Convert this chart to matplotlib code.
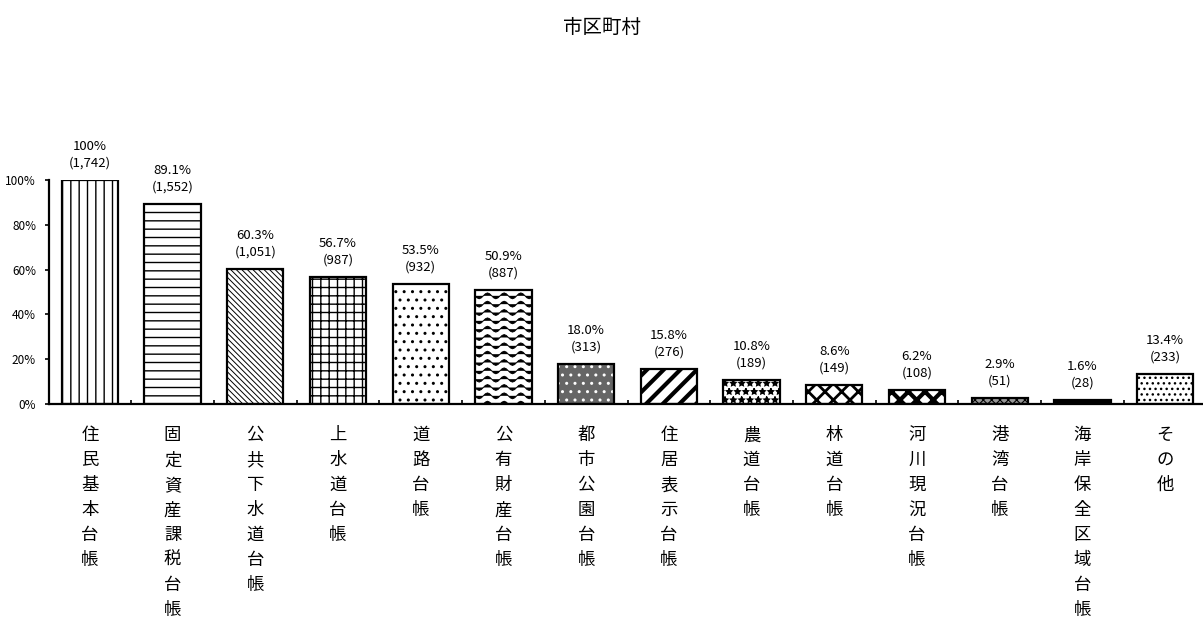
import warnings

import numpy as np
import matplotlib
matplotlib.use("Agg")
from matplotlib import pyplot as plt
from matplotlib import hatch as mhatch
from matplotlib.path import Path

warnings.filterwarnings("ignore")

plt.rcParams['font.family'] = ['Noto Sans CJK JP', 'DejaVu Sans']
plt.rcParams['hatch.linewidth'] = 1.0

# 台帳の種類ごとの整備率(%)と団体数
ledgers = ['住民基本台帳', '固定資産課税台帳', '公共下水道台帳', '上水道台帳', '道路台帳',
           '公有財産台帳', '都市公園台帳', '住居表示台帳', '農道台帳', '林道台帳',
           '河川現況台帳', '港湾台帳', '海岸保全区域台帳', 'その他']
rates = [100, 89.1, 60.3, 56.7, 53.5, 50.9, 18.0, 15.8, 10.8, 8.6, 6.2, 2.9, 1.6, 13.4]
counts = [1742, 1552, 1051, 987, 932, 887, 313, 276, 189, 149, 108, 51, 28, 233]
yticks = [0, 20, 40, 60, 80, 100]


class WaveHatch(mhatch.HatchPatternBase):
    """'~' : rows of sine waves."""

    def __init__(self, hatch, density):
        self.num_rows = int(hatch.count('~') * density)
        self.periods = 6
        self.pts = self.periods * 8 + 1
        self.num_vertices = self.num_rows * self.pts

    def set_vertices_and_codes(self, vertices, codes):
        xs = np.linspace(0.0, 1.0, self.pts)
        step = 1.0 / self.num_rows
        for r in range(self.num_rows):
            y0 = (r + 0.5) * step
            seg = slice(r * self.pts, (r + 1) * self.pts)
            vertices[seg, 0] = xs
            vertices[seg, 1] = y0 + 0.35 * step * np.sin(2 * np.pi * self.periods * xs)
            codes[seg] = Path.LINETO
            codes[r * self.pts] = Path.MOVETO


mhatch._hatch_types.append(WaveHatch)

# fill pattern per bar: (hatch, face, hatch colour, hatch linewidth)
styles = [
    ('||', 'white', 'black', 1.0),
    ('--', 'white', 'black', 1.0),
    ('\\' * 6, 'white', 'black', 0.7),
    ('++', 'white', 'black', 1.0),
    ('..', 'white', 'black', 1.0),
    ('~~', 'white', 'black', 0.7),
    ('..', '0.4', 'white', 1.0),
    ('//', 'white', 'black', 3.0),
    ('**', 'white', 'black', 1.0),
    ('xx', 'white', 'black', 2.0),
    ('xx', 'white', 'black', 3.0),
    ('xxxx', '0.6', 'black', 0.8),
    ('-', 'black', 'white', 1.5),
    ('...', 'white', 'black', 1.0),
]

fig = plt.figure(figsize=(12.03, 6.25), dpi=100)
ax = fig.add_axes([48.5 / 1203, 221 / 625, 1158 / 1203, 224 / 625])

x = np.arange(len(ledgers))
width = 0.68

for i, (h, face, hc, hlw) in enumerate(styles):
    with plt.rc_context({'hatch.linewidth': hlw}):
        b = ax.bar(x[i], rates[i], width, color=face, edgecolor=hc,
                   linewidth=0, hatch=h, zorder=2)
    for p in b:
        if hasattr(p, 'set_hatch_linewidth'):
            p.set_hatch_linewidth(hlw)

ax.bar(x, rates, width, fill=False, edgecolor='black', linewidth=1.6, zorder=3)

for xi, r, c in zip(x, rates, counts):
    pct = f"{r:.0f}%" if r >= 100 else f"{r:.1f}%"
    ax.annotate(f"{pct}\n({c:,})", (xi, r), xytext=(0, 7.5), textcoords='offset points',
                ha='center', va='bottom', fontsize=9.5, linespacing=1.35,
                annotation_clip=False)

ax.set_xlim(-0.5, len(ledgers) - 0.5)
ax.set_ylim(0, 100)
ax.set_yticks(yticks)
ax.set_yticklabels([f"{t}%" for t in yticks], fontsize=8.5)
ax.tick_params(axis='y', direction='out', length=3, width=1.2, pad=6)

ax.set_xticks(x)
ax.set_xticklabels(['\n'.join(name) for name in ledgers], fontsize=12.5,
                   linespacing=1.5, va='top')
ax.tick_params(axis='x', which='major', length=0, pad=16)
ax.set_xticks(np.arange(0.5, len(ledgers) - 0.5), minor=True)
ax.tick_params(axis='x', which='minor', direction='in', length=3, width=1.2)

for s in ('top', 'right'):
    ax.spines[s].set_visible(False)
for s in ('left', 'bottom'):
    ax.spines[s].set_linewidth(1.6)

fig.text(0.5, 1 - 27 / 625, '市区町村', ha='center', va='center', fontsize=14)

fig.savefig('out.png', dpi=100)
